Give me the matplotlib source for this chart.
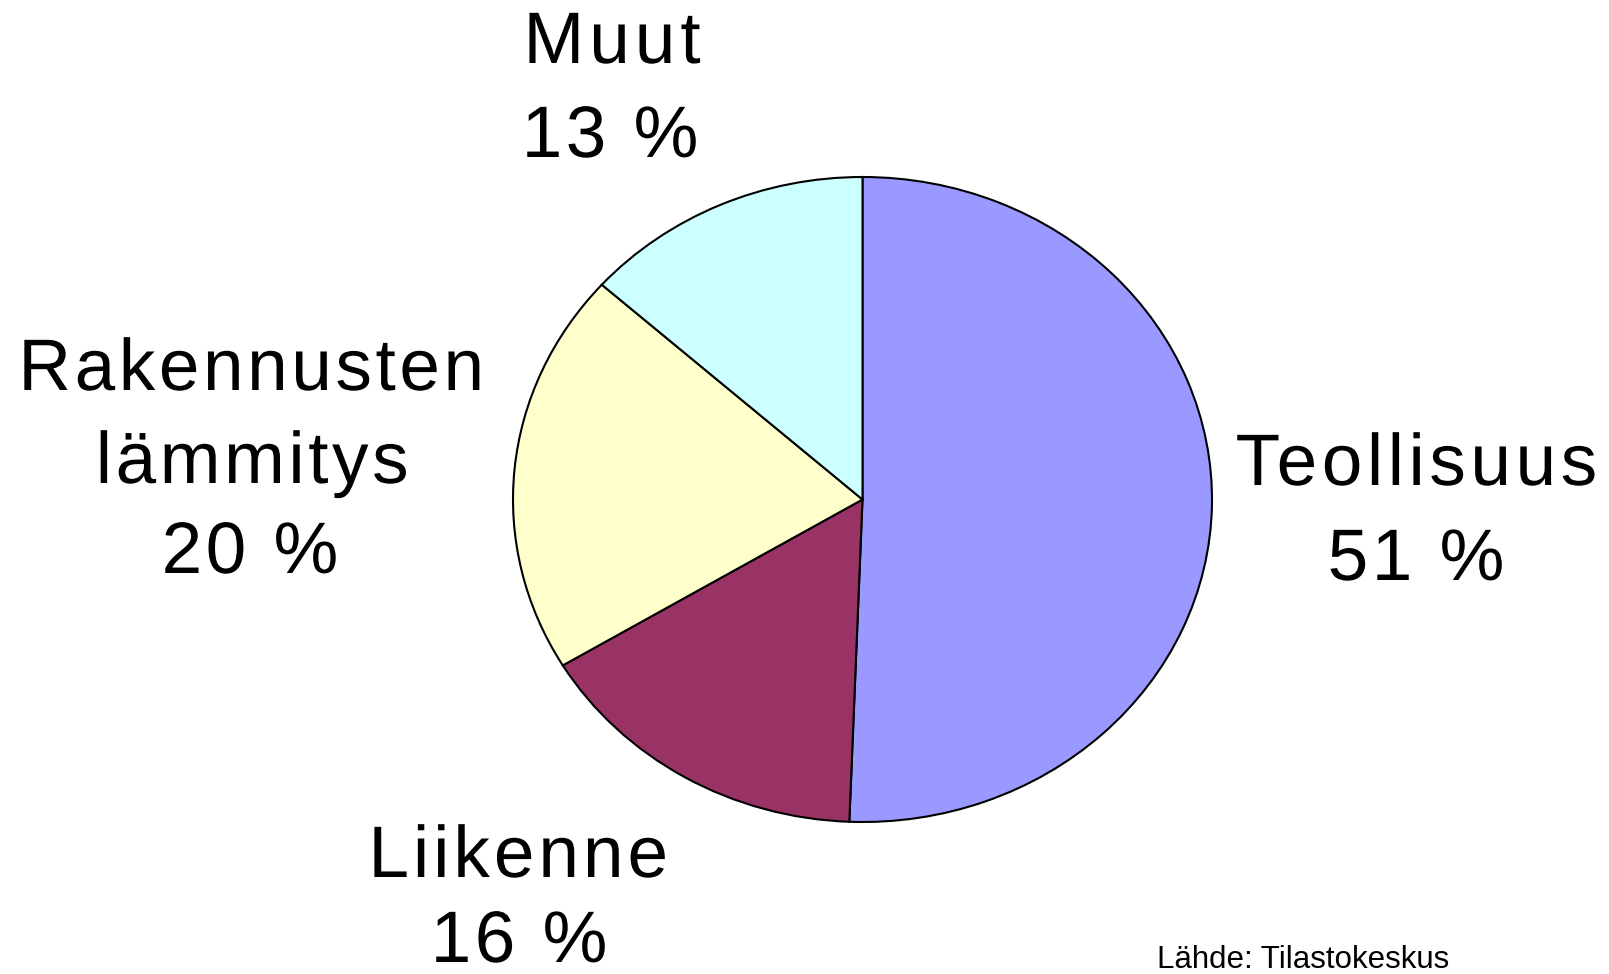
import matplotlib
matplotlib.use("Agg")
import matplotlib.pyplot as plt
import numpy as np
from matplotlib.patheffects import AbstractPathEffect
from matplotlib.path import Path
from matplotlib.transforms import IdentityTransform
from matplotlib.textpath import text_to_path
from matplotlib.font_manager import FontProperties

# Data
categories = ["Teollisuus", "Liikenne", "Rakennusten\nlämmitys", "Muut"]
shares = [50.6, 15.8, 20.2, 13.4]
pct_labels = ["51 %", "16 %", "20 %", "13 %"]
colors = ["#9999FF", "#993366", "#FFFFCC", "#CCFFFF"]
source = "Lähde: Tilastokeskus"

W, H = 1609, 974
fig = plt.figure(figsize=(W / 100, H / 100), dpi=100)
fig.patch.set_facecolor("white")

# pie ellipse: left 513, right 1212, top 177, bottom 822 (pixels from top-left)
L, R, T, B = 513, 1212, 177, 822
ax = fig.add_axes([L / W, 1 - B / H, (R - L) / W, (B - T) / H])
ax.pie(shares, colors=colors, startangle=90, counterclock=False,
       wedgeprops=dict(edgecolor="black", linewidth=1.5), radius=1.0)
ax.set_aspect("auto")
ax.set_xlim(-1, 1)
ax.set_ylim(-1, 1)
ax.axis("off")

FONT = "Liberation Sans"


class Tracking(AbstractPathEffect):
    """Letter spacing (in pixels) for centred text, keeping it real text."""

    def __init__(self, text, prop, spacing_px):
        super().__init__()
        self.text = text
        self.prop = prop
        self.sp = spacing_px

    def draw_path(self, renderer, gc, tpath, affine, rgbFace=None):
        verts = affine.transform(tpath.vertices)
        codes = tpath.codes
        try:
            font = text_to_path._get_font(self.prop)
            info, gmap, _ = text_to_path.get_glyphs_with_font(font, self.text)
            counts = [len(gmap[g[0]][0]) for g in info]
            if sum(counts) != len(verts):
                raise ValueError
            n = len(info)
            out = verts.copy()
            idx = 0
            for i, c in enumerate(counts):
                out[idx:idx + c, 0] += (i - (n - 1) / 2) * self.sp
                idx += c
            verts = out
        except Exception:
            pass
        renderer.draw_path(gc, Path(verts, codes), IdentityTransform(), rgbFace)


def put(text, cx, baseline, size, spacing=0.0, ha="center"):
    prop = FontProperties(family=FONT, size=size)
    t = fig.text(cx / W, 1 - baseline / H, text, ha=ha, va="baseline",
                 fontproperties=prop, color="black")
    if spacing:
        t.set_path_effects([Tracking(text, prop, spacing)])
    return t


big = 52.5

# label lines: (center x px, baseline px, size, letter spacing px)
label_layout = {
    "Teollisuus": [(1416, 485, big, 4.6), (1416, 580, big, 3.5)],
    "Liikenne": [(518, 877, big, 4.0), (519, 962, big, 3.5)],
    "Rakennusten\nlämmitys": [(251, 390, big, 3.6), (252, 483, big, 3.6),
                              (250, 573, big, 3.5)],
    "Muut": [(612, 63, big, 5.0), (610, 157, big, 3.5)],
}

for cat, pct in zip(categories, pct_labels):
    lines = cat.split("\n") + [pct]
    for line, (cx, by, sz, sp) in zip(lines, label_layout[cat]):
        put(line, cx, by, sz, sp)

put(source, 1157, 968, 22.5, ha="left")

fig.savefig("out.png", dpi=100, facecolor="white")
